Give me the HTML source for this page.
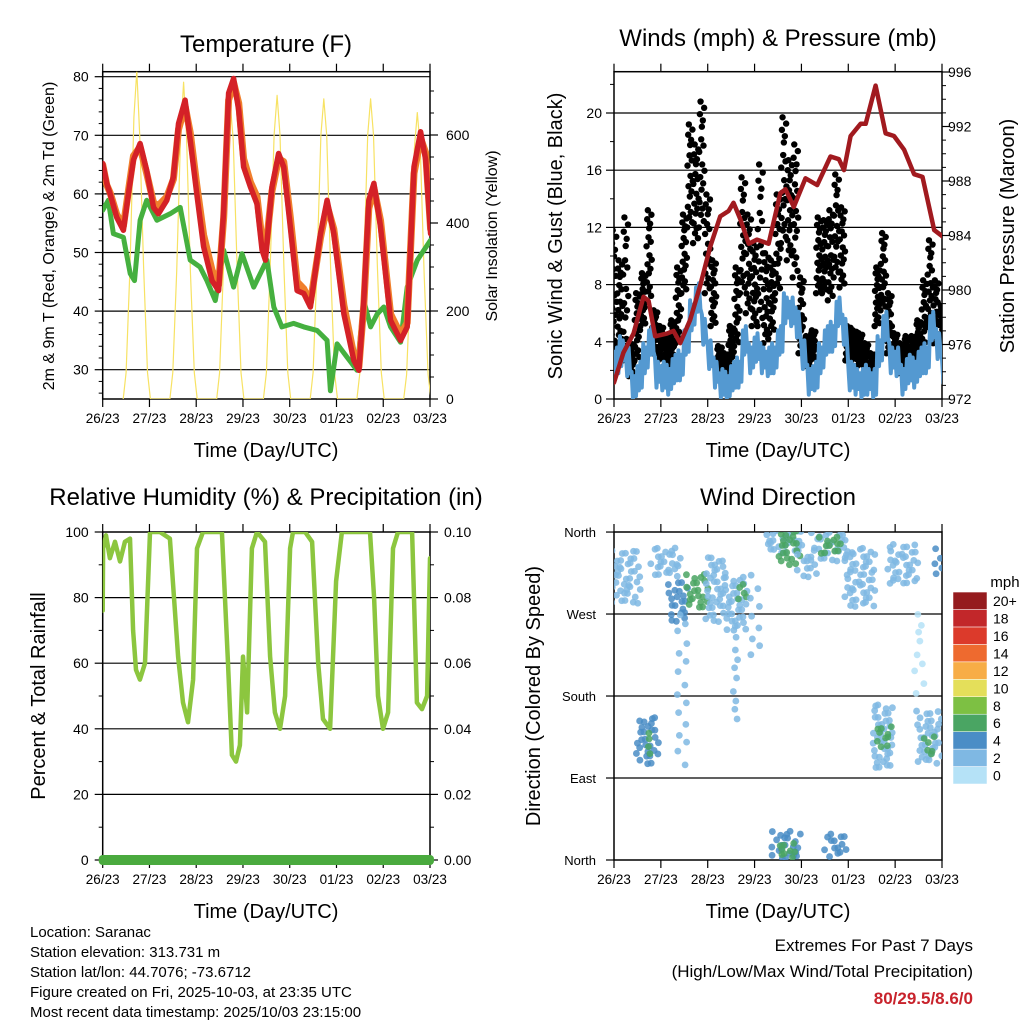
<!DOCTYPE html>
<html><head><meta charset="utf-8">
<style>
html,body{margin:0;padding:0;background:#fff;}
svg{display:block;font-family:"Liberation Sans Narrow","Liberation Sans",sans-serif;}
text{fill:#000;}
</style></head>
<body>
<svg id="fig" width="1024" height="1024" viewBox="0 0 1024 1024" xmlns="http://www.w3.org/2000/svg">
<defs>
<clipPath id="cT"><rect x="102.7" y="71.7" width="327.3" height="327.3"/></clipPath>
<clipPath id="cW"><rect x="614" y="71.7" width="328" height="327.3"/></clipPath>
<clipPath id="cR"><rect x="102.7" y="532" width="327.3" height="328"/></clipPath>
<clipPath id="cD"><rect x="614" y="532" width="328" height="328"/></clipPath>
</defs>
<g id="g"></g>
<text x="266" y="52" font-size="24" text-anchor="middle">Temperature (F)</text>
<text x="778" y="46" font-size="24" text-anchor="middle">Winds (mph) &amp; Pressure (mb)</text>
<text x="266" y="505" font-size="24" text-anchor="middle">Relative Humidity (%) &amp; Precipitation (in)</text>
<text x="778" y="505" font-size="24" text-anchor="middle">Wind Direction</text>
<text transform="translate(54,236) rotate(-90)" font-size="16" text-anchor="middle">2m &amp; 9m T (Red, Orange) &amp; 2m Td (Green)</text>
<text transform="translate(497,236) rotate(-90)" font-size="16" text-anchor="middle">Solar Insolation (Yellow)</text>
<text transform="translate(562,236) rotate(-90)" font-size="20" text-anchor="middle">Sonic Wind &amp; Gust (Blue, Black)</text>
<text transform="translate(1014,236) rotate(-90)" font-size="20" text-anchor="middle">Station Pressure (Maroon)</text>
<text transform="translate(45,696) rotate(-90)" font-size="20" text-anchor="middle">Percent &amp; Total Rainfall</text>
<text transform="translate(540,696) rotate(-90)" font-size="20" text-anchor="middle">Direction (Colored By Speed)</text>
<text x="266" y="457" font-size="20" text-anchor="middle">Time (Day/UTC)</text>
<text x="778" y="457" font-size="20" text-anchor="middle">Time (Day/UTC)</text>
<text x="266" y="918" font-size="20" text-anchor="middle">Time (Day/UTC)</text>
<text x="778" y="918" font-size="20" text-anchor="middle">Time (Day/UTC)</text>
<text x="1005" y="587" font-size="15" text-anchor="middle">mph</text>
<g font-size="15">
<text x="30" y="937">Location: Saranac</text>
<text x="30" y="957">Station elevation: 313.731 m</text>
<text x="30" y="977">Station lat/lon: 44.7076; -73.6712</text>
<text x="30" y="997">Figure created on Fri, 2025-10-03, at 23:35 UTC</text>
<text x="30" y="1017">Most recent data timestamp: 2025/10/03 23:15:00</text>
</g>
<text x="973" y="951" font-size="17" text-anchor="end">Extremes For Past 7 Days</text>
<text x="973" y="977" font-size="17" text-anchor="end">(High/Low/Max Wind/Total Precipitation)</text>
<text x="973" y="1004" font-size="17" font-weight="bold" text-anchor="end" style="fill:#c8232c">80/29.5/8.6/0</text>
</svg>
<script>
// ---- data ----
const dayLabels=["26/23","27/23","28/23","29/23","30/23","01/23","02/23","03/23"];
const tempTicks=[30,40,50,60,70,80];
const solarTicks=[0,200,400,600];
const windTicks=[0,4,8,12,16,20];
const presTicks=[972,976,980,984,988,992,996];
const rhTicks=[0,20,40,60,80,100];
const rainTicks=["0.00","0.02","0.04","0.06","0.08","0.10"];
const dirTicks=["North","East","South","West","North"];
const speedBins=["0","2","4","6","8","10","12","14","16","18","20+"];
const speedColors=["#b5e2f7","#7fb8e3","#4a8dc6","#4aa563","#7dc043","#e4df5a","#f7ad46","#ee6a2f","#dc3a2b","#c2272a","#951b1e"];

const tRedH=[0,2.1,3.8,7.2,10.6,13.2,15.8,19.2,22.6,26.1,28.6,32.9,36.3,38.9,42.3,44.9,48.3,51.8,56.1,59.5,62.1,64.6,67.2,69.8,72.3,75.8,79.2,81.8,83.5,86.9,90.3,92.9,96.3,99.8,103.2,106.6,111.8,115.2,118.6,123.8,128.9,131.5,134,136.6,139.2,142.6,147.8,152.9,156.3,159.8,163.2,165.8,168.3];
const tRedV=[65.2,61.8,60,56,53.8,60,65.8,68.6,64,57.7,56.6,58.9,62.9,72,76,69.2,60,51,45.2,43.5,57.2,77.2,79.7,74.3,64.6,61.2,58.3,50.4,48.7,61.2,66.9,64.6,54.4,43.5,43,40.7,53.2,58.9,53.2,39.5,31.6,29.9,41.8,58.9,61.8,54.4,38.4,35,37.3,64.6,70.6,65.8,53.2];
const tOrgV=[65,61.5,60.2,56.5,54.5,60.5,66.5,68,63.5,58.5,58,59.5,62.5,71,75,70.5,61.5,53,47,44.5,56,76,79,75.5,66,62,59.5,52,50,60.5,66,65.5,56,45,43.8,41.5,52.5,58,54,41,32.5,30.5,41,57.5,61,55.5,39.5,36,38,63.5,69.5,67,54];
const tGrnH=[0,2.9,5.5,10.6,14.1,16.3,19.2,22.6,27.8,34.6,39.8,44.9,50,53.5,57.8,62.1,67.2,71.5,77.5,84.3,87.8,92,98,103.2,110,115.2,116.9,120.3,125.5,130.6,134,137.5,140.9,144.3,147.8,152.9,156.3,161.5,168.3];
const tGrnV=[57.2,58.9,53.2,52.6,46.4,45.2,55.5,58.9,55.5,56.6,57.7,48.7,47.5,45.2,41.8,50.4,44.1,49.8,44.1,48.7,40.7,37.3,37.9,37.3,36.7,35,26.4,34.4,32.1,29.9,41.8,37.3,39.5,40.7,37.3,34.7,44.1,48.7,52.1];
const solarH=[10.5,12,14,16,17.5,19,21,23,24.5, 34.5,36,38,40,41.5,43,45,47,48.5, 58.5,60,62,64,65.5,67,69,71,72.5, 82.5,84,86,88,89.5,91,93,95,96.5, 106.5,108,110,112,113.5,115,117,119,120.5, 130.5,132,134,136,137.5,139,141,143,144.5, 154.5,156,158,160,161.5,163,165,167,168.5];
const solarV=[0,60,300,640,746,600,300,60,0, 0,60,290,600,720,600,290,60,0, 0,60,300,590,670,590,300,60,0, 0,60,300,600,690,600,300,60,0, 0,60,300,600,682,600,300,60,0, 0,60,300,600,682,600,300,60,0, 0,55,280,570,651,570,280,55,0];

const gustMax=[11.8,9.7,12.7,3.9,7.4,8.8,13.2,6.2,5.1,4.4,5.5,9.2,12.9,19.2,17.8,20.8,14.3,9.7,3.7,3.2,5.1,9.2,15.5,12.9,10.9,16.4,10.2,9.7,14.3,19.7,16.7,17.8,8.5,4.4,4.8,12.7,12.5,13.2,15.7,13.4,5.1,4.8,4.6,3.9,3.2,9.2,11.6,7.4,4.6,3.9,4.4,4.4,5.5,8.3,11.1,8.3,6.5];
const gustMin=[2.7,3.9,2.7,1.6,2.7,5.1,6.9,3.2,2.7,2.3,2.7,3.9,7.4,12,10.9,12,7.4,5.1,1.6,1.3,1.8,3.7,7.4,6,5.1,5.1,3.9,4.6,7.4,10.9,9.7,8.5,3.2,2.3,2.7,7.4,7.4,6.9,8.5,7.8,2.7,2.7,2.3,1.3,1.3,5.1,6.2,3.2,2.3,1.8,2.3,2,2.7,3.2,5.1,3.9,3.2];
const windV=[2.5,3.5,2.5,1,1.5,3,4,2,1.5,1.5,2,2.5,4,6,7,5,3,2,1,1,1.5,2,4,3,3.5,3,2.5,3,4,6.5,6,5.5,3,1.5,1.5,3,4,4.5,6,5,1.5,1.5,1,1.5,1,3.5,5,3,2.5,1.5,2,2,2.5,3,5,4,2];
const windJit=[0.8,-0.9,1.1,-0.7,0.9,-1.2,0.6,-0.8];
const presH=[0,4.8,10,15.1,17.7,21.1,27.1,30.5,33.9,39,44.1,49.3,54.4,58.7,61.2,64.7,69,73.2,79.2,85.2,87.8,92.1,98.1,104.1,110.9,115.2,117.8,121.2,126.3,128.9,134,139.1,143.4,148.6,153.7,158,164,168.6];
const presV=[973.2,975.4,976.8,979.5,979.2,976.6,976.8,977,976.1,977.8,980.3,983.2,985.4,985.8,986.4,985.2,983.4,983.7,983.4,987.1,987.4,986.1,988.2,987.7,989.8,989.6,988.8,991.3,992.2,992.2,995,991.5,991.3,990.3,988.5,988.3,984.4,983.9];

const rhH=[0,0.2,1.7,3.7,6.3,8.9,11.4,14,15.6,17.1,19.1,21.7,24.3,29.4,34.5,38.7,41.2,43.8,46.4,48.4,51.5,56,61.2,64.3,66.3,68.4,70.4,72,74.1,76.6,79.2,83.3,85.9,88.4,91,93.6,96.2,97.7,103.9,107.5,110.6,113.1,116.7,119.8,122.8,137.2,139.3,141.3,143.9,146.5,149,151.6,158.8,159.8,161.3,163.9,166.5,168];
const rhV=[76,95,99,92,97,91,97,98,70,58,55,60,100,100,98,62,48,42,55,95,100,100,100,60,32,30,35,62,45,95,100,97,62,45,40,50,95,100,100,97,60,43,40,85,100,100,80,50,40,45,95,100,100,80,48,46,50,92];

const clT0=[0,20,29,38,47.5,58,64,71,78,85,95,102,106,119,141,165.5,12.5,17,133,135,156,160,82,85,109,33.6,61,155];
const clT1=[13,34,37,48,58,68,68,80,97,95,104,119,117,134,156,168,22,20,143,142,167,164,95,93,119,40,65,160];
const clD0=[278,311,264,275,264,253,282,216,333,326,308,330,335,278,300,308,102,117,99,121,102,115,0,2,4,102,154,176];
const clD1=[337,340,304,311,330,308,300,311,359,359,333,357,352,340,344,340,154,139,168,146,161,135,29,18,26,271,253,271];
const clSpd=[2,2,4,7,2,2,6,2,3,6,2,3,7,2,2,4,4,7,3,7,3,6,4,6,4,2,2,1];
const clSparse=[0,0,0,0,0,0,0,1,0,0,0,0,0,0,0,0,0,0,0,0,0,0,0,0,0,1,1,1];

// ---- helpers ----
const NS="http://www.w3.org/2000/svg";
const root=document.getElementById('g');
const jit=[0.3,-0.8,0.9,-0.2,0.6,-0.6,0.1,-0.9,0.7,-0.4,0.5,-0.1,0.8,-0.7,0.2];
function mk(tag,attrs,parent){const e=document.createElementNS(NS,tag);for(const k in attrs)e.setAttribute(k,attrs[k]);(parent||root).appendChild(e);return e;}
function txt(x,y,s,size,anchor){const e=mk('text',{x:x,y:y,'font-size':size,'text-anchor':anchor});e.textContent=s;return e;}
function poly(pts,stroke,w,clip,name){
  const e=mk('polyline',{points:pts.map(p=>p[0].toFixed(1)+','+p[1].toFixed(1)).join(' '),fill:'none',stroke:stroke,'stroke-width':w,'stroke-linejoin':'round','stroke-linecap':'round','clip-path':'url(#'+clip+')'});
  
  
  return e;}

function panel(X0,X1,Y0,Y1,clip,pname){
  const xs=h=>X0+(X1-X0)*h/168;
  const f=mk('rect',{x:X0,y:Y1,width:X1-X0,height:Y0-Y1,fill:'none',stroke:'#000','stroke-width':1.5});
  
  
  for(let i=0;i<8;i++){
    const x=xs(i*24);
    mk('line',{x1:x,y1:Y0,x2:x,y2:Y0+8,stroke:'#000','stroke-width':1.2});
    mk('line',{x1:x,y1:Y1,x2:x,y2:Y1-8,stroke:'#000','stroke-width':1.2});
    const t=txt(x,Y0+24,dayLabels[i],13.5,'middle');
    
    
  }
  return xs;
}

// ---- Temperature panel ----
(function(){
  const X0=102.7,X1=430,Y0=399,Y1=71.7;
  const xs=panel(X0,X1,Y0,Y1,'cT','temperature');
  const ys=F=>Y0-(F-25)*5.86, yw=W=>Y0-W*0.44;
  tempTicks.forEach(v=>{const y=ys(v);
    mk('line',{x1:X0,y1:y,x2:X1,y2:y,stroke:'#000','stroke-width':1.2});
    mk('line',{x1:X0-8,y1:y,x2:X0,y2:y,stroke:'#000','stroke-width':1.2});
    const t=txt(X0-14,y+5,String(v),14,'end');});
  for(let v=26;v<=80;v+=2){if(v%10)mk('line',{x1:X0-4,y1:ys(v),x2:X0,y2:ys(v),stroke:'#000','stroke-width':1});}
  solarTicks.forEach(v=>{const y=yw(v);
    mk('line',{x1:X1,y1:y,x2:X1+8,y2:y,stroke:'#000','stroke-width':1.2});
    const t=txt(X1+16,y+5,String(v),14,'start');});
  for(let v=50;v<=700;v+=50){if(v%200)mk('line',{x1:X1,y1:yw(v),x2:X1+4,y2:yw(v),stroke:'#000','stroke-width':1});}
  poly(solarH.map((h,i)=>[xs(h),yw(solarV[i])]),'#f7e263',1.2,'cT','solar-insolation-line');
  poly(tGrnH.map((h,i)=>[xs(h),ys(tGrnV[i])]),'#45b03f',5,'cT','dewpoint-line');
  poly(tRedH.map((h,i)=>[xs(h),ys(tOrgV[i])]),'#f07f2c',7,'cT','temp-9m-line');
  poly(tRedH.map((h,i)=>[xs(h),ys(tRedV[i])]),'#d42127',5.5,'cT','temp-2m-line');
})();

// ---- Winds panel ----
(function(){
  const X0=614,X1=942,Y0=399,Y1=71.7;
  const xs=panel(X0,X1,Y0,Y1,'cW','winds');
  const ys=v=>Y0-v*14.3, yp=p=>Y0-(p-972)*13.625;
  windTicks.forEach(v=>{const y=ys(v);
    if(v>0)mk('line',{x1:X0,y1:y,x2:X1,y2:y,stroke:'#000','stroke-width':1.2});
    mk('line',{x1:X0-8,y1:y,x2:X0,y2:y,stroke:'#000','stroke-width':1.2});
    const t=txt(X0-12,y+5,String(v),14,'end');});
  for(let v=2;v<=22;v+=4)mk('line',{x1:X0-4,y1:ys(v),x2:X0,y2:ys(v),stroke:'#000','stroke-width':1});
  presTicks.forEach(v=>{const y=yp(v);
    mk('line',{x1:X1,y1:y,x2:X1+8,y2:y,stroke:'#000','stroke-width':1.2});
    const t=txt(X1+6,y+5,String(v),14,'start');});
  for(let v=973;v<=995;v++){if(v%4)mk('line',{x1:X1,y1:yp(v),x2:X1+4,y2:yp(v),stroke:'#000','stroke-width':1});}
  const wpts=[];
  windV.forEach((v,i)=>{for(let k=0;k<4;k++){wpts.push([xs(i*3+k*0.75),ys(Math.max(0,v+windJit[(i*4+k)%8]))]);}});
  // gust points
  const fr=[0,0.6,0.2,0.9,0.4,1,0.1,0.7,0.3,0.8,0.5,0.15,0.85,0.35,0.65,0.05,0.95,0.45];
  gustMax.forEach((mx,i)=>{
    const mn=gustMin[i];
    fr.forEach((f,k)=>{
      const h=i*3-1.5+k*(3/fr.length);
      const c=mk('circle',{cx:xs(h),cy:ys(mn+(mx-mn)*f),r:3.2,fill:'#000','clip-path':'url(#cW)'});
      
      
    });
  });
  poly(wpts,'#5499d1',4,'cW','wind-speed-line');
  poly(presH.map((h,i)=>[xs(h),yp(presV[i])]),'#a11a1f',4.5,'cW','pressure-line');
})();

// ---- RH panel ----
(function(){
  const X0=102.7,X1=430,Y0=860,Y1=532;
  const xs=panel(X0,X1,Y0,Y1,'cR','rh');
  const ys=v=>Y0-v*3.28;
  rhTicks.forEach((v,i)=>{const y=ys(v);
    if(v>0&&v<100)mk('line',{x1:X0,y1:y,x2:X1,y2:y,stroke:'#000','stroke-width':1.2});
    mk('line',{x1:X0-8,y1:y,x2:X0,y2:y,stroke:'#000','stroke-width':1.2});
    mk('line',{x1:X1,y1:y,x2:X1+8,y2:y,stroke:'#000','stroke-width':1.2});
    const t=txt(X0-14,y+5,String(v),14,'end');
    const t2=txt(X1+14,y+5,rainTicks[i],14,'start');});
  for(let v=10;v<100;v+=20){mk('line',{x1:X0-4,y1:ys(v),x2:X0,y2:ys(v),stroke:'#000','stroke-width':1});mk('line',{x1:X1,y1:ys(v),x2:X1+4,y2:ys(v),stroke:'#000','stroke-width':1});}
  poly(rhH.map((h,i)=>[xs(h),ys(rhV[i])]),'#8cc63f',4.5,'cR','rh-line');
  const r=mk('rect',{x:X0-4,y:Y0-5,width:X1-X0+8,height:10,rx:4,fill:'#4aaa3e'});
  
  
})();

// ---- Wind direction panel ----
(function(){
  const X0=614,X1=942,Y0=860,Y1=532;
  const xs=panel(X0,X1,Y0,Y1,'cD','direction');
  const ys=d=>Y0-d*0.911;
  dirTicks.forEach((s,i)=>{const y=ys(i*90);
    if(i>0&&i<4)mk('line',{x1:X0,y1:y,x2:X1,y2:y,stroke:'#000','stroke-width':1.2});
    mk('line',{x1:X0-8,y1:y,x2:X0,y2:y,stroke:'#000','stroke-width':1.2});
    const t=txt(X0-18,y+5,s,13,'end');});
  let n=0;
  clT0.forEach((t0,c)=>{
    const step=clSparse[c]?10:6;
    const col=speedColors[Math.min(10,Math.floor(clSpd[c]/2))];
    let row=0;
    for(let y=ys(clD1[c]);y<=ys(clD0[c])+0.1;y+=step,row++){
      for(let x=xs(t0)+(row%2)*step/2;x<=xs(clT1[c])+0.1;x+=clSparse[c]?step*2:step){
        n++;
        const p=mk('circle',{cx:x+jit[n%15]*2.5,cy:y+jit[(n*7)%15]*2.5,r:3.4,fill:col,'fill-opacity':0.85,'clip-path':'url(#cD)'});
        
        
      }
    }
  });
  speedBins.forEach((s,i)=>{
    const y=784-17.45*(i+1);
    const r=mk('rect',{x:953,y:y,width:34,height:17.45,fill:speedColors[i],stroke:'#fff','stroke-width':0.5});
    
    
    const t=txt(993,y+14,s,14,'start');
    
    
  });
})();
</script>
</body></html>
